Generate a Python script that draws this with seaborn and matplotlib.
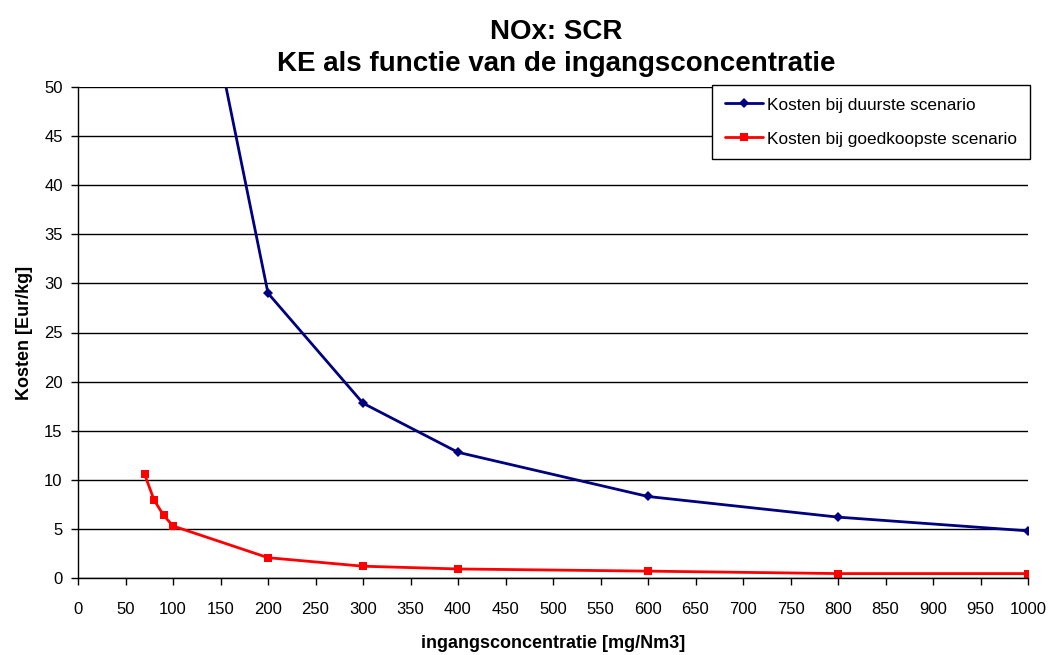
import matplotlib
matplotlib.use("Agg")
import matplotlib.pyplot as plt
import seaborn as sns
import pandas as pd

# Ingangsconcentratie [mg/Nm3] and kosten [Eur/kg]
conc_duur = [100, 200, 300, 400, 600, 800, 1000]
kosten_duur = [76.5, 29.0, 17.8, 12.8, 8.3, 6.2, 4.8]

conc_goedkoop = [70, 80, 90, 100, 200, 300, 400, 600, 800, 1000]
kosten_goedkoop = [10.6, 7.95, 6.4, 5.3, 2.07, 1.2, 0.92, 0.7, 0.45, 0.45]

label_duur = "Kosten bij duurste scenario"
label_goedkoop = "Kosten bij goedkoopste scenario"

sns.set_theme(style="white")
plt.rcParams["font.family"] = ["Liberation Sans", "DejaVu Sans"]
plt.rcParams["text.color"] = "black"
plt.rcParams["axes.labelcolor"] = "black"
plt.rcParams["xtick.color"] = "black"
plt.rcParams["ytick.color"] = "black"

fig = plt.figure(figsize=(10.53, 6.55), dpi=100)
ax = fig.add_axes([78 / 1053, 1 - 578 / 655, 950 / 1053, 491 / 655])

df_duur = pd.DataFrame({"x": conc_duur, "y": kosten_duur})
df_goed = pd.DataFrame({"x": conc_goedkoop, "y": kosten_goedkoop})

sns.lineplot(data=df_duur, x="x", y="y", ax=ax, color="#000080", lw=2,
             marker="D", markersize=5, markeredgewidth=0, label=label_duur)
sns.lineplot(data=df_goed, x="x", y="y", ax=ax, color="#ff0000", lw=2,
             marker="s", markersize=6, markeredgewidth=0, label=label_goedkoop)

ax.set_xlim(0, 1000)
ax.set_ylim(0, 50)
ax.set_xticks(range(0, 1001, 50))
ax.set_yticks(range(0, 51, 5))
ax.tick_params(axis="both", which="both", direction="out", length=5, width=1,
               color="black", labelsize=12, bottom=True, left=True)
ax.tick_params(axis="x", pad=12)
ax.tick_params(axis="y", pad=6)
ax.yaxis.grid(True, color="black", lw=1)
ax.xaxis.grid(False)
for side in ["top", "right"]:
    ax.spines[side].set_visible(False)
for side in ["left", "bottom"]:
    ax.spines[side].set_color("black")
    ax.spines[side].set_linewidth(1)

ax.set_xlabel("ingangsconcentratie [mg/Nm3]", fontsize=13, fontweight="bold", labelpad=13)
ax.set_ylabel("Kosten [Eur/kg]", fontsize=13, fontweight="bold", labelpad=8)
fig.text(0.528, 0.971, "NOx: SCR\nKE als functie van de ingangsconcentratie",
         ha="center", va="top", fontsize=20, fontweight="bold", linespacing=1.3)

leg = ax.legend(loc="upper right", bbox_to_anchor=(1.002, 1.005), fontsize=12.4,
                frameon=True, fancybox=False, edgecolor="black", framealpha=1,
                borderpad=0.75, labelspacing=1.1, handlelength=2.2, handletextpad=0.25,
                borderaxespad=0)
leg.get_frame().set_linewidth(1)

fig.savefig("out.png", dpi=100)
